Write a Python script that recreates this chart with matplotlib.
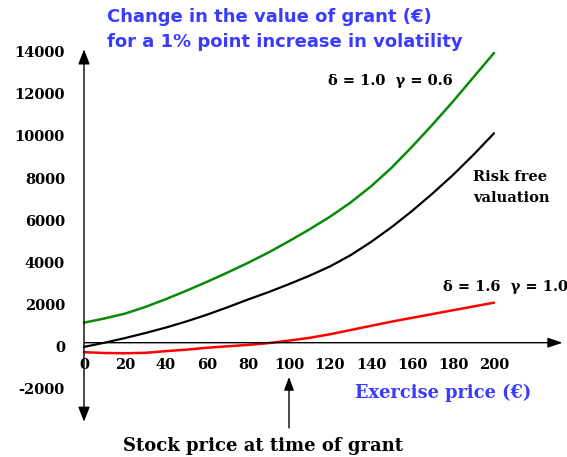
import matplotlib
matplotlib.use("Agg")
import matplotlib.pyplot as plt
from matplotlib.transforms import ScaledTranslation

# ---- data ----
exercise_price = [0, 10, 20, 30, 40, 50, 60, 70, 80, 90, 100,
                  110, 120, 130, 140, 150, 160, 170, 180, 190, 200]
green_d10_g06 = [950, 1150, 1380, 1700, 2070, 2470, 2890, 3330, 3790, 4280, 4820,
                 5380, 5980, 6650, 7420, 8300, 9300, 10350, 11450, 12600, 13750]
black_riskfree = [-200, 0, 220, 460, 720, 1010, 1330, 1680, 2050, 2400, 2780,
                  3180, 3620, 4150, 4780, 5480, 6250, 7080, 7960, 8920, 9940]
red_d16_g10 = [-450, -490, -500, -480, -400, -330, -240, -170, -105, -20, 100,
               230, 400, 600, 800, 1000, 1180, 1360, 1540, 1720, 1900]

x_ticks = [0, 20, 40, 60, 80, 100, 120, 140, 160, 180, 200]
y_ticks = [-2000, 0, 2000, 4000, 6000, 8000, 10000, 12000, 14000]
stock_price = 100

W, H = 567, 457
BLUE = "#3b3bff"
GREEN = "#0a8a0a"
SERIF = "DejaVu Serif"

fig = plt.figure(figsize=(W / 100, H / 100), dpi=100)
fig.patch.set_facecolor("white")

# axes placed so that x=0 sits at px 84 (2.05 px/unit) and y=0 at px 342.7
XPX, YPX = 2.05, 0.021071
xlim = (-5, 235)
ylim = (-4000, 14500)
left = (84 + xlim[0] * XPX) / W
bottom = (H - (342.7 - ylim[0] * YPX)) / H
ax = fig.add_axes([left, bottom, (xlim[1] - xlim[0]) * XPX / W,
                   (ylim[1] - ylim[0]) * YPX / H])
ax.set_xlim(*xlim)
ax.set_ylim(*ylim)
ax.set_facecolor("none")

for s in ax.spines.values():
    s.set_visible(False)
ax.spines["left"].set_position(("data", 0))
ax.spines["bottom"].set_position(("data", 0))

ax.plot(exercise_price, green_d10_g06, color=GREEN, lw=1.8, solid_capstyle="round")
ax.plot(exercise_price, black_riskfree, color="black", lw=1.6, solid_capstyle="round")
ax.plot(exercise_price, red_d16_g10, color="#ff0000", lw=1.8, solid_capstyle="round")

# axis arrows
ax.annotate("", xy=(0, 13920), xytext=(0, -3750), annotation_clip=False,
            arrowprops=dict(arrowstyle="<|-|>,head_length=0.9,head_width=0.35",
                            color="black", lw=1.0, shrinkA=0, shrinkB=0))
ax.annotate("", xy=(233.5, 0), xytext=(0, 0), annotation_clip=False,
            arrowprops=dict(arrowstyle="-|>,head_length=0.9,head_width=0.3",
                            color="black", lw=1.0, shrinkA=0, shrinkB=0))

ax.set_xticks(x_ticks)
ax.set_yticks(y_ticks)
ax.set_xticklabels([str(v) for v in x_ticks])
ax.set_yticklabels([str(v) for v in y_ticks])
ax.tick_params(axis="both", length=0, labelsize=10.5)
ax.tick_params(axis="y", pad=13.7)
ax.tick_params(axis="x", pad=11)
for lab in ax.get_xticklabels() + ax.get_yticklabels():
    lab.set_fontfamily(SERIF)
    lab.set_fontweight("bold")
for lab in ax.get_yticklabels():
    lab.set_transform(lab.get_transform() +
                      ScaledTranslation(0, -4 / 100, fig.dpi_scale_trans))


def fpx(x, y):
    return x / W, 1 - y / H


fig.text(*fpx(107, 17), "Change in the value of grant (€)", color=BLUE,
         fontsize=13, fontweight="bold", ha="left", va="center")
fig.text(*fpx(107, 42), "for a 1% point increase in volatility", color=BLUE,
         fontsize=13, fontweight="bold", ha="left", va="center")
fig.text(*fpx(328, 81), "δ = 1.0  γ = 0.6", family=SERIF, fontsize=10.5,
         fontweight="bold", ha="left", va="center")
fig.text(*fpx(473, 177), "Risk free", family=SERIF, fontsize=10.5,
         fontweight="bold", ha="left", va="center")
fig.text(*fpx(473, 198), "valuation", family=SERIF, fontsize=10.5,
         fontweight="bold", ha="left", va="center")
fig.text(*fpx(443, 287), "δ = 1.6  γ = 1.0", family=SERIF, fontsize=10.5,
         fontweight="bold", ha="left", va="center")
fig.text(*fpx(355, 393), "Exercise price (€)", color=BLUE, family=SERIF,
         fontsize=12.8, fontweight="bold", ha="left", va="center")
fig.text(*fpx(123, 446), "Stock price at time of grant", family=SERIF,
         fontsize=13, fontweight="bold", ha="left", va="center")

# arrow pointing at the stock price on the exercise-price axis
ax.annotate("", xy=(stock_price, H - 377), xytext=(stock_price, H - 428),
            xycoords=("data", "figure pixels"), textcoords=("data", "figure pixels"),
            annotation_clip=False,
            arrowprops=dict(arrowstyle="-|>,head_length=0.8,head_width=0.3",
                            color="black", lw=1.0, shrinkA=0, shrinkB=0))

fig.savefig("out.png", dpi=100, facecolor="white")
